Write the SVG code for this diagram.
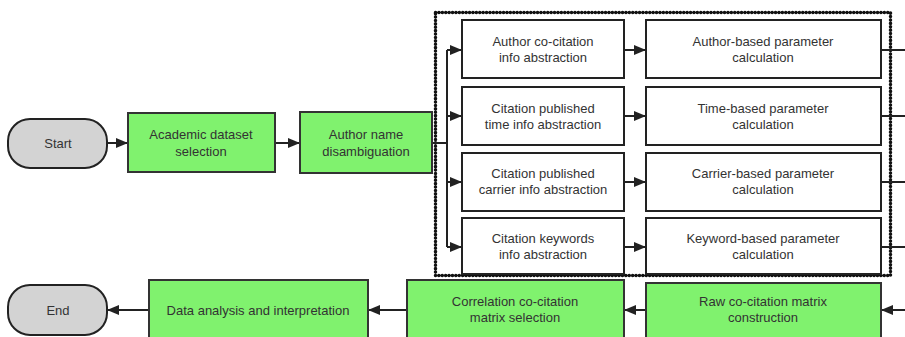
<svg xmlns="http://www.w3.org/2000/svg" width="905" height="337" viewBox="0 0 905 337">
<defs>
<marker id="ah" viewBox="0 0 12 10" refX="12" refY="5" markerWidth="13" markerHeight="10" markerUnits="userSpaceOnUse" orient="auto" overflow="visible">
<path d="M0,0 L12,5 L0,10 Z" fill="#222"/>
</marker>
<style>
.pill{fill:#d3d3d3;stroke:#222;stroke-width:2}
.g{fill:#80f26e;stroke:#333;stroke-width:2}
.w{fill:#fff;stroke:#222;stroke-width:2}
.t{font-family:"Liberation Sans",Arial,sans-serif;font-size:13px;fill:#333;text-anchor:middle}
.c{fill:none;stroke:#222;stroke-width:2}
.a{fill:none;stroke:#222;stroke-width:2;marker-end:url(#ah)}
.dot{fill:none;stroke:#111;stroke-width:3.5;stroke-dasharray:0.1 3.3;stroke-linecap:round}
</style>
</defs>
<rect width="905" height="337" fill="#fff"/>
<g id="group-box"><rect class="dot" x="435.5" y="12.5" width="455" height="263"/></g>
<g id="connectors">
<path class="a" d="M107,143 H128"/>
<path class="a" d="M275,143 H300"/>
<path class="c" d="M432,143 H447 M447,50 V247"/>
<path class="a" d="M447,50 H462"/>
<path class="a" d="M447,116 H462"/>
<path class="a" d="M447,182 H462"/>
<path class="a" d="M447,247 H462"/>
<path class="a" d="M624,50 H646"/>
<path class="a" d="M624,116 H646"/>
<path class="a" d="M624,182 H646"/>
<path class="a" d="M624,247 H646"/>
<path class="c" d="M881,50 H905 M881,116 H905 M881,182 H905 M881,247 H905"/>
<path class="a" d="M905,310 H881"/>
<path class="a" d="M646,310 H624"/>
<path class="a" d="M407,310 H368"/>
<path class="a" d="M149,310 H107"/>
</g>
<g id="start"><rect class="pill" x="8" y="119" width="99" height="49" rx="22"/><text class="t" x="58" y="148">Start</text></g>
<g id="academic"><rect class="g" x="128" y="113" width="147" height="59"/><text class="t" x="201" y="139">Academic dataset</text><text class="t" x="201" y="156">selection</text></g>
<g id="disamb"><rect class="g" x="300" y="112" width="132" height="61"/><text class="t" x="366" y="139">Author name</text><text class="t" x="366" y="156">disambiguation</text></g>
<g id="a1"><rect class="w" x="462" y="20" width="162" height="58"/><text class="t" x="543" y="46">Author co-citation</text><text class="t" x="543" y="62">info abstraction</text></g>
<g id="a2"><rect class="w" x="462" y="87" width="162" height="58"/><text class="t" x="543" y="113">Citation published</text><text class="t" x="543" y="129">time info abstraction</text></g>
<g id="a3"><rect class="w" x="462" y="153" width="162" height="58"/><text class="t" x="543" y="178">Citation published</text><text class="t" x="543" y="194">carrier info abstraction</text></g>
<g id="a4"><rect class="w" x="462" y="218" width="162" height="56"/><text class="t" x="543" y="243">Citation keywords</text><text class="t" x="543" y="259">info abstraction</text></g>
<g id="b1"><rect class="w" x="646" y="20" width="235" height="58"/><text class="t" x="763" y="46">Author-based parameter</text><text class="t" x="763" y="62">calculation</text></g>
<g id="b2"><rect class="w" x="646" y="87" width="235" height="58"/><text class="t" x="763" y="113">Time-based parameter</text><text class="t" x="763" y="129">calculation</text></g>
<g id="b3"><rect class="w" x="646" y="153" width="235" height="58"/><text class="t" x="763" y="178">Carrier-based parameter</text><text class="t" x="763" y="194">calculation</text></g>
<g id="b4"><rect class="w" x="646" y="218" width="235" height="56"/><text class="t" x="763" y="243">Keyword-based parameter</text><text class="t" x="763" y="259">calculation</text></g>
<g id="raw"><rect class="g" x="646" y="283" width="235" height="60"/><text class="t" x="763" y="306">Raw co-citation matrix</text><text class="t" x="763" y="322">construction</text></g>
<g id="corr"><rect class="g" x="407" y="280" width="217" height="63"/><text class="t" x="515" y="306">Correlation co-citation</text><text class="t" x="515" y="322">matrix selection</text></g>
<g id="analysis"><rect class="g" x="149" y="280" width="219" height="63"/><text class="t" x="258" y="315">Data analysis and interpretation</text></g>
<g id="end"><rect class="pill" x="8" y="285" width="99" height="50" rx="22"/><text class="t" x="58" y="315">End</text></g>
</svg>
